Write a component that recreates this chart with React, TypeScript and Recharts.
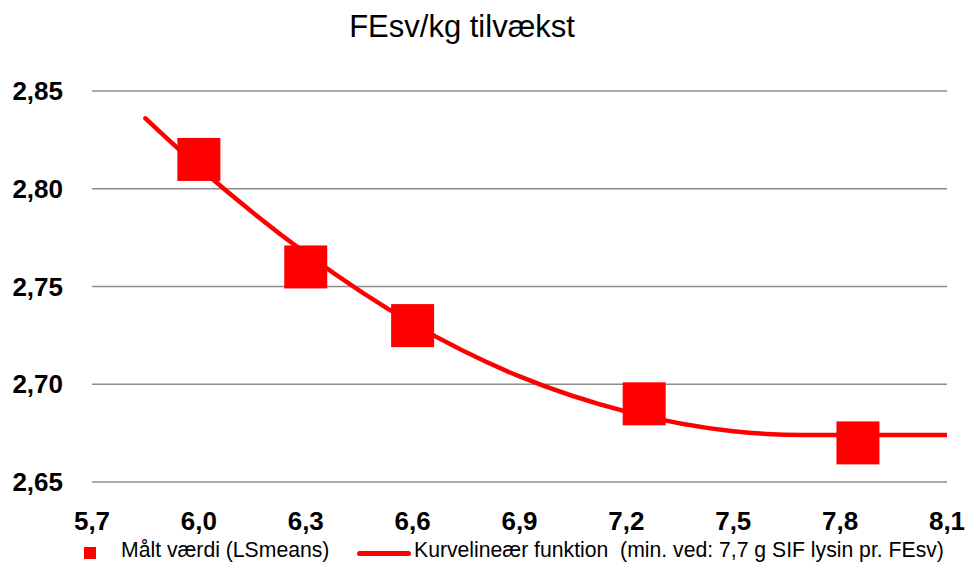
import { ComposedChart, Line, Scatter, XAxis, YAxis, CartesianGrid } from 'recharts'

const xTicks = [5.7, 6.0, 6.3, 6.6, 6.9, 7.2, 7.5, 7.8, 8.1]
const yTicks = [2.65, 2.7, 2.75, 2.8, 2.85]

// målte LSmeans
const measuredX = [6.0, 6.3, 6.6, 7.25, 7.85]
const measuredY = [2.815, 2.76, 2.73, 2.69, 2.67]

// kurvelineær funktion, aflæst
const curveX = [5.85, 6.0, 6.3, 6.6, 6.9, 7.2, 7.5, 7.7, 8.1]
const curveY = [2.836, 2.811, 2.767, 2.731, 2.704, 2.686, 2.676, 2.674, 2.674]

const measured = measuredX.map((x, i) => ({ x, y: measuredY[i] }))
const curve = curveX.map((x, i) => ({ x, y: curveY[i] }))

const RED = '#ff0000'
const FONT = '"Liberation Sans", Arial, sans-serif'

const comma = (v: number, d: number) => v.toFixed(d).replace('.', ',')

const Square = (p: any) => (
  <rect x={p.cx - 21.5} y={p.cy - 21.5} width={43} height={43} fill={RED} />
)

export default function App() {
  return (
    <div style={{ position: 'absolute', left: 0, top: 0, width: 966, height: 562, background: '#fff', fontFamily: FONT, overflow: 'hidden' }}>
      <div style={{
        position: 'absolute', left: 262, width: 400, top: 11, textAlign: 'center',
        fontSize: 31, lineHeight: '31px', color: '#000',
      }}>
        FEsv/kg tilvækst
      </div>

      <ComposedChart width={966} height={562} margin={{ top: 91, right: 19, bottom: 0, left: 0 }}>
        <CartesianGrid vertical={false} stroke="#8c8c8c" strokeWidth={1.6} />
        <XAxis
          type="number" dataKey="x" domain={[5.7, 8.1]} ticks={xTicks} interval={0}
          axisLine={false} tickLine={false} tickMargin={24} height={80}
          tickFormatter={(v: number) => comma(v, 1)}
          tick={{ fill: '#000', fontSize: 26, fontWeight: 'bold', fontFamily: FONT }}
          allowDataOverflow
        />
        <YAxis
          type="number" domain={[2.65, 2.85]} ticks={yTicks} interval={0} width={92}
          axisLine={false} tickLine={false} tickMargin={23}
          tickFormatter={(v: number) => comma(v, 2)}
          tick={{ fill: '#000', fontSize: 26, fontWeight: 'bold', fontFamily: FONT }}
          allowDataOverflow
        />
        <Line
          data={curve} dataKey="y" type="monotone" stroke={RED} strokeWidth={4.5}
          strokeLinecap="round" dot={false} activeDot={false} isAnimationActive={false}
        />
        <Scatter data={measured} dataKey="y" fill={RED} shape={Square} isAnimationActive={false} />
      </ComposedChart>

      <div style={{ position: 'absolute', left: 84, top: 547, width: 12, height: 12, background: RED }} />
      <div style={{ position: 'absolute', left: 121, top: 539, fontSize: 21.2, lineHeight: '21px', color: '#000', whiteSpace: 'nowrap' }}>
        Målt værdi (LSmeans)
      </div>
      <div style={{ position: 'absolute', left: 357, top: 551, width: 54, height: 5, borderRadius: 3, background: RED }} />
      <div style={{ position: 'absolute', left: 414, top: 539, fontSize: 21.2, lineHeight: '21px', color: '#000', whiteSpace: 'pre' }}>
        {'Kurvelineær funktion  (min. ved: 7,7 g SIF lysin pr. FEsv)'}
      </div>
    </div>
  )
}
